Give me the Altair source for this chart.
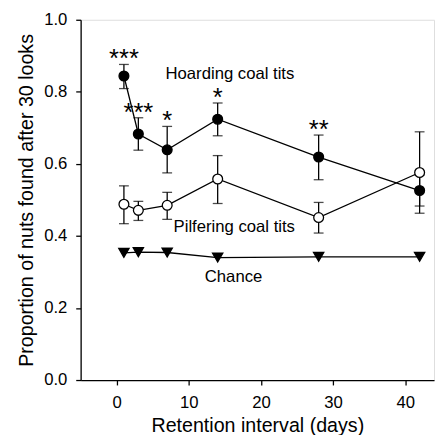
import altair as alt
import pandas as pd

days = [1, 3, 7, 14, 28, 42]
hoard_mean = [0.844, 0.683, 0.639, 0.724, 0.619, 0.526]
hoard_upper = [0.876, 0.728, 0.704, 0.769, 0.680, 0.569]
hoard_lower = [0.809, 0.638, 0.575, 0.678, 0.556, 0.483]
pilf_mean = [0.488, 0.471, 0.485, 0.558, 0.451, 0.576]
pilf_upper = [0.539, 0.496, 0.521, 0.623, 0.493, 0.689]
pilf_lower = [0.434, 0.443, 0.446, 0.490, 0.408, 0.463]
chance_mean = [0.353, 0.355, 0.354, 0.340, 0.342, 0.342]
stars = ["***", "***", "*", "*", "**", ""]

label_text = ["Hoarding coal tits", "Pilfering coal tits", "Chance"]
label_x = [15.7, 16.3, 16.2]
label_y = [0.850, 0.425, 0.286]

FONT = "Liberation Sans"

hoard = pd.DataFrame({"x": days, "y": hoard_mean, "hi": hoard_upper, "lo": hoard_lower, "star": stars})
pilf = pd.DataFrame({"x": days, "y": pilf_mean, "hi": pilf_upper, "lo": pilf_lower})
chance = pd.DataFrame({"x": days, "y": chance_mean})
labels = pd.DataFrame({"x": label_x, "y": label_y, "t": label_text})

xs = alt.Scale(domain=[-5, 44], nice=False, zero=False)
ys = alt.Scale(domain=[0, 1.0], nice=False)

X = alt.X("x:Q", scale=xs, axis=alt.Axis(
    title="Retention interval (days)", values=[0, 10, 20, 30, 40], format="d",
    grid=False, domainColor="black", tickColor="black", tickSize=5,
    labelFont=FONT, labelFontSize=17, labelColor="black", labelPadding=10,
    titleFont=FONT, titleFontSize=20, titleFontWeight="normal", titleColor="black",
    titlePadding=5, domainWidth=1.3, tickWidth=1.3))
Y = alt.Y("y:Q", scale=ys, axis=alt.Axis(
    title="Proportion of nuts found after 30 looks", values=[0, 0.2, 0.4, 0.6, 0.8, 1.0],
    format=".1f", grid=False, domainColor="black", tickColor="black", tickSize=5,
    labelFont=FONT, labelFontSize=17, labelColor="black", labelPadding=9,
    titleFont=FONT, titleFontSize=20, titleFontWeight="normal", titleColor="black",
    titlePadding=7, domainWidth=1.3, tickWidth=1.3))

Xp = alt.X("x:Q", scale=xs)
Yp = alt.Y("y:Q", scale=ys)

def series(df, filled, shape="circle", size=100):
    line = alt.Chart(df).mark_line(color="black", strokeWidth=1.3).encode(x=Xp, y=Yp)
    pts = alt.Chart(df).mark_point(
        shape=shape, size=size, filled=True,
        fill="black" if filled else "white", stroke="black", strokeWidth=1.3, opacity=1
    ).encode(x=Xp, y=Yp)
    return line, pts

def errbars(df):
    rule = alt.Chart(df).mark_rule(color="black", strokeWidth=1.3).encode(
        x=Xp, y=alt.Y("lo:Q", scale=ys), y2="hi:Q")
    caps_hi = alt.Chart(df).mark_tick(color="black", thickness=1.3, size=10, orient="horizontal").encode(
        x=Xp, y=alt.Y("hi:Q", scale=ys))
    caps_lo = alt.Chart(df).mark_tick(color="black", thickness=1.3, size=10, orient="horizontal").encode(
        x=Xp, y=alt.Y("lo:Q", scale=ys))
    return rule, caps_hi, caps_lo

base = alt.Chart(hoard).mark_point(opacity=0).encode(x=X, y=Y)

h_line, h_pts = series(hoard, True)
p_line, p_pts = series(pilf, False)
c_line, c_pts = series(chance, True, shape="triangle-down", size=110)
h_err = errbars(hoard)
p_err = errbars(pilf)

star_text = alt.Chart(hoard).mark_text(
    font=FONT, fontSize=26, color="black", baseline="alphabetic", align="center", dy=3
).encode(x=Xp, y=alt.Y("hi:Q", scale=ys), text="star:N")

label_marks = alt.Chart(labels).mark_text(
    font=FONT, fontSize=17, color="black", baseline="middle", align="center"
).encode(x=Xp, y=Yp, text="t:N")

chart = alt.layer(
    base, c_line, p_line, h_line, *p_err, *h_err, c_pts, p_pts, h_pts, star_text, label_marks
).properties(
    width=360, height=367,
    autosize=alt.AutoSizeParams(type="none"),
    padding={"left": 74, "top": 8, "right": 2, "bottom": 52},
).configure_view(stroke=None).configure(background="white")

chart.save("out.html", embed_options={"renderer": "svg", "actions": False})
